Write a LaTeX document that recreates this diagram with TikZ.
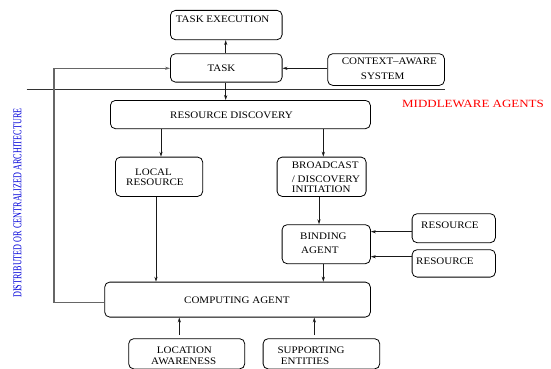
\documentclass[tikz,border=0pt]{standalone}
\usepackage{fontspec}
\setmainfont{Liberation Serif}
\newfontfamily\boxfont{Liberation Serif}[FakeStretch=1.1]
\newfontfamily\redfont{Liberation Serif}[FakeStretch=1.18]
\newfontfamily\bluefont{Liberation Serif}[FakeStretch=0.68]
\usetikzlibrary{arrows.meta}
\begin{document}
\begin{tikzpicture}[x=1pt,y=-1pt,
  blk/.style={draw=black, line width=0.8pt, rounded corners=5pt},
  txt/.style={anchor=base west, inner sep=0pt, font=\boxfont\fontsize{10}{12}\selectfont, text=black},
  arr/.style={draw=black!90, line width=0.8pt, -{Stealth[length=5pt,width=3.2pt]}},
  loopline/.style={draw=black!60, line width=1.1pt, -{Stealth[length=5pt,width=3.2pt]}},
  sep/.style={draw=black!80, line width=0.7pt}]
\useasboundingbox (0,0) rectangle (551,369);

% boxes
\node[blk, minimum width=111.7pt, minimum height=29.3pt, anchor=north west] (texec) at (170,10) {};
\node[blk, minimum width=111.7pt, minimum height=28.4pt, anchor=north west] (task) at (170,53.3) {};
\node[blk, minimum width=116.7pt, minimum height=31.7pt, anchor=north west] (ctx) at (327.3,53.3) {};
\node[blk, minimum width=260pt, minimum height=28.3pt, anchor=north west] (rd) at (110,100) {};
\node[blk, minimum width=87.3pt, minimum height=39.3pt, anchor=north west] (local) at (115,156.7) {};
\node[blk, minimum width=89pt, minimum height=39.3pt, anchor=north west] (bcast) at (276.7,156.7) {};
\node[blk, minimum width=88.3pt, minimum height=39pt, anchor=north west] (bind) at (281.7,224.3) {};
\node[blk, minimum width=83.3pt, minimum height=29pt, anchor=north west] (res1) at (411.7,213.3) {};
\node[blk, minimum width=83.3pt, minimum height=27.4pt, anchor=north west] (res2) at (411.7,249.3) {};
\node[blk, minimum width=265.7pt, minimum height=35pt, anchor=north west] (comp) at (104.3,281.7) {};
\node[blk, minimum width=116pt, minimum height=30.2pt, anchor=north west] (loc) at (128.3,338.3) {};
\node[blk, minimum width=116.6pt, minimum height=30.2pt, anchor=north west] (sup) at (262.7,338.3) {};

% box labels
\node[txt] (l-texec) at (175.7,22.3) {TASK EXECUTION};
\node[txt] (l-task) at (207.3,71) {TASK};
\node[txt] (l-ctx1) at (341.7,64.5) {CONTEXT–AWARE};
\node[txt] (l-ctx2) at (360.7,79.3) {SYSTEM};
\node[txt] (l-rd) at (170,118.3) {RESOURCE DISCOVERY};
\node[txt] (l-loc1) at (135,175) {LOCAL};
\node[txt] (l-loc2) at (126,185) {RESOURCE};
\node[txt] (l-bc1) at (291.7,168.3) {BROADCAST};
\node[txt] (l-bc2) at (291.7,182.3) {/ DISCOVERY};
\node[txt] (l-bc3) at (291.7,192.7) {INITIATION};
\node[txt] (l-bind1) at (300,239) {BINDING};
\node[txt] (l-bind2) at (301,253.3) {AGENT};
\node[txt] (l-res1) at (421,228.3) {RESOURCE};
\node[txt] (l-res2) at (416,264.3) {RESOURCE};
\node[txt] (l-comp) at (184,303.3) {COMPUTING AGENT};
\node[txt] (l-la1) at (156.7,353.3) {LOCATION};
\node[txt] (l-la2) at (151,364.3) {AWARENESS};
\node[txt] (l-se1) at (277.3,353.3) {SUPPORTING};
\node[txt] (l-se2) at (280.7,364.3) {ENTITIES};

% side captions
\node[anchor=base west, inner sep=0pt, text=red, font=\redfont\fontsize{11}{13}\selectfont] (mw) at (402,107.3) {MIDDLEWARE AGENTS};
\node[rotate=90, inner sep=0pt, text=blue!85!black, font=\bluefont\fontsize{12}{14}\selectfont] (arch) at (17.5,203) {DISTRIBUTED OR CENTRALIZED ARCHITECTURE};

% separator between task layer and middleware agents
\coordinate (sepL) at (26.7,89.3);
\coordinate (sepR) at (445,89.3);
\draw[sep] (sepL) -- (sepR);

% vertical guide positions of the connectors
\coordinate (xtask) at (225.7,0);
\coordinate (xlocin) at (161,0);
\coordinate (xlocout) at (156,0);
\coordinate (xbcin) at (323.3,0);
\coordinate (xbind) at (319,0);
\coordinate (xla) at (179.3,0);
\coordinate (xse) at (314.3,0);
\coordinate (ytask) at (0,68.3);
\coordinate (yres1) at (0,231.7);
\coordinate (yres2) at (0,256.7);
\coordinate (yloop) at (0,302.3);
\coordinate (xloop) at (54,0);

% connectors
\draw[arr] (task.north -| xtask) -- (texec.south -| xtask);
\draw[arr] (ctx.west |- ytask) -- (task.east |- ytask);
\draw[arr] (task.south -| xtask) -- (rd.north -| xtask);
\draw[loopline] (comp.west |- yloop) -- (xloop |- yloop) -- (xloop |- ytask) -- (task.west |- ytask);
\draw[arr] (rd.south -| xlocin) -- (local.north -| xlocin);
\draw[arr] (rd.south -| xbcin) -- (bcast.north -| xbcin);
\draw[arr] (local.south -| xlocout) -- (comp.north -| xlocout);
\draw[arr] (bcast.south -| xbind) -- (bind.north -| xbind);
\draw[arr] (bind.south -| xbcin) -- (comp.north -| xbcin);
\draw[arr] (res1.west |- yres1) -- (bind.east |- yres1);
\draw[arr] (res2.west |- yres2) -- (bind.east |- yres2);
\draw[arr, shorten <=3.3pt] (loc.north -| xla) -- (comp.south -| xla);
\draw[arr, shorten <=3.3pt] (sup.north -| xse) -- (comp.south -| xse);
\end{tikzpicture}
\end{document}
